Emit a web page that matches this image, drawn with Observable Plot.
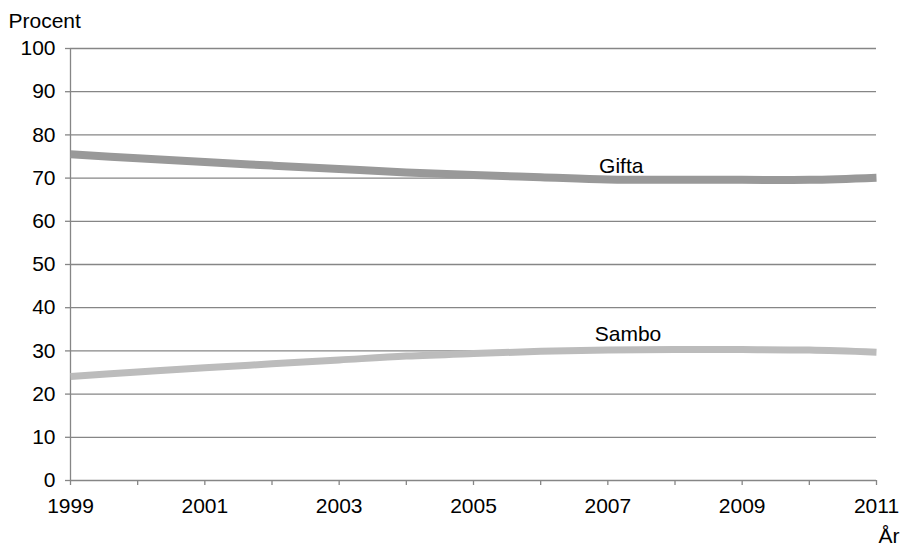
<!DOCTYPE html>
<html>
<head>
<meta charset="utf-8">
<script src="https://cdn.jsdelivr.net/npm/d3@7"></script>
<script src="https://cdn.jsdelivr.net/npm/@observablehq/plot@0.6"></script>
<style>
  html, body { margin: 0; padding: 0; background: #fff; }
  svg { display: block; }
</style>
</head>
<body>
<div id="chart"></div>
<script>
const years = [1999, 2000, 2001, 2002, 2003, 2004, 2005, 2006, 2007, 2008, 2009, 2010, 2011];
const gifta = [75.5, 74.6, 73.7, 72.9, 72.1, 71.3, 70.7, 70.2, 69.7, 69.6, 69.6, 69.6, 70.1];
const sambo = [24.1, 25.1, 26.1, 27.0, 27.9, 28.8, 29.4, 29.9, 30.2, 30.3, 30.3, 30.2, 29.7];
const yTicks = [0, 10, 20, 30, 40, 50, 60, 70, 80, 90, 100];
const xLabelYears = [1999, 2001, 2003, 2005, 2007, 2009, 2011];
const labelNames = ["Gifta", "Sambo"];
const labelYears = [2007.2, 2007.3];
const labelValues = [71.1, 32.4];

const giftaData = years.map((y, i) => ({year: y, value: gifta[i]}));
const samboData = years.map((y, i) => ({year: y, value: sambo[i]}));
const labelData = labelNames.map((n, i) => ({name: n, year: labelYears[i], value: labelValues[i]}));

const font = "'Liberation Sans', Arial, sans-serif";
const gridColor = "#868686";
const fs = 21;

const chart = Plot.plot({
  width: 902,
  height: 545,
  marginLeft: 70,
  marginRight: 26,
  marginTop: 48,
  marginBottom: 65,
  style: {fontFamily: font, fontSize: fs + "px", color: "#000", background: "#fff"},
  x: {domain: [1999, 2011]},
  y: {domain: [0, 100]},
  marks: [
    Plot.ruleY(yTicks.slice(1), {stroke: gridColor, strokeWidth: 1.3, strokeOpacity: 1}),
    Plot.axisY({ticks: yTicks, tickSize: 5, tickPadding: 10, stroke: gridColor, strokeWidth: 1.3, strokeOpacity: 1, fill: "#000", fontSize: fs, label: null, tickFormat: d => d}),
    Plot.axisX({ticks: years, tickSize: 5, tickPadding: 13, stroke: gridColor, strokeWidth: 1.3, strokeOpacity: 1, fill: "#000", fontSize: fs, label: null,
      tickFormat: d => xLabelYears.includes(d) ? String(d) : ""}),
    Plot.ruleY([0], {stroke: gridColor, strokeWidth: 1.3}),
    Plot.ruleX([1999], {stroke: gridColor, strokeWidth: 1.3}),
    Plot.line(samboData, {x: "year", y: "value", stroke: "#bcbcbc", strokeWidth: 7, curve: "catmull-rom", strokeLinecap: "butt"}),
    Plot.line(giftaData, {x: "year", y: "value", stroke: "#999999", strokeWidth: 8, curve: "catmull-rom", strokeLinecap: "butt"}),
    Plot.text(labelData, {x: "year", y: "value", text: "name", textAnchor: "middle", lineAnchor: "bottom", fontSize: fs, fill: "#000"}),
    Plot.text(["Procent"], {frameAnchor: "top-left", dx: -62, dy: -21, textAnchor: "start", lineAnchor: "bottom", fontSize: fs, fill: "#000"}),
    Plot.text(["År"], {frameAnchor: "bottom-right", dx: 2, dy: 62, textAnchor: "start", lineAnchor: "bottom", fontSize: fs, fill: "#000"})
  ]
});
document.getElementById("chart").appendChild(chart);
</script>
</body>
</html>
